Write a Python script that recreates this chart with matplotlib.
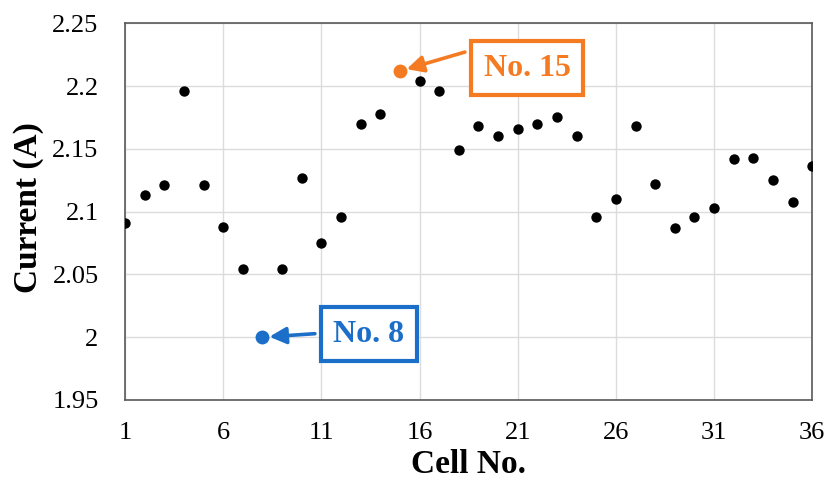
import matplotlib
matplotlib.use('Agg')
import matplotlib.pyplot as plt

plt.rcParams['font.family'] = ['Liberation Serif', 'DejaVu Serif']

# data
cell_no = list(range(1, 37))
current = [2.091, 2.113, 2.121, 2.196, 2.121, 2.088, 2.054, 2.000, 2.054, 2.127,
           2.075, 2.096, 2.170, 2.178, 2.212, 2.204, 2.196, 2.149, 2.168, 2.160,
           2.166, 2.170, 2.175, 2.160, 2.096, 2.110, 2.168, 2.122, 2.087, 2.096,
           2.103, 2.142, 2.143, 2.125, 2.108, 2.136]
highlight = {8: ('No. 8', '#1C6FC9'), 15: ('No. 15', '#F47B22')}
x_ticks = [1, 6, 11, 16, 21, 26, 31, 36]
y_ticks = [1.95, 2.0, 2.05, 2.1, 2.15, 2.2, 2.25]
y_ticklabels = ['1.95', '2', '2.05', '2.1', '2.15', '2.2', '2.25']

# label box centres and arrow tails (data coords)
box_pos = {8: (13.42, 2.0024), 15: (21.47, 2.2144)}
arrow_tail = {8: (10.67, 2.0028), 15: (18.31, 2.2271)}

fig = plt.figure(figsize=(8.31, 4.9), dpi=100)
ax = fig.add_axes([0.1504, 0.1837, 0.8271, 0.7687])

# normal cells in black
xs = [c for c in cell_no if c not in highlight]
ys = [current[c - 1] for c in xs]
ax.scatter(xs, ys, s=56, color='black', zorder=3, linewidths=0)

for c, (label, color) in highlight.items():
    y = current[c - 1]
    ax.scatter([c], [y], s=100, color=color, zorder=3, linewidths=0)
    ax.annotate('', xy=(c, y), xytext=arrow_tail[c],
                arrowprops=dict(arrowstyle='-|>,head_length=1.0,head_width=0.5',
                                color=color, lw=2.6, shrinkA=0, shrinkB=5),
                zorder=4)
    bx, by = box_pos[c]
    ax.text(bx, by, label, ha='center', va='center', fontsize=23,
            fontweight='bold', color=color, zorder=5,
            bbox=dict(boxstyle='square,pad=0.4', facecolor='white',
                      edgecolor=color, linewidth=3))

ax.set_xlim(1, 36)
ax.set_ylim(1.95, 2.25)
ax.set_xticks(x_ticks)
ax.set_yticks(y_ticks)
ax.set_yticklabels(y_ticklabels)
ax.tick_params(axis='both', length=0, labelsize=19)
ax.tick_params(axis='x', pad=16)
ax.tick_params(axis='y', pad=19)

ax.grid(True, color='#DCDCDC', linewidth=1.0)
ax.set_axisbelow(True)
for sp in ax.spines.values():
    sp.set_color('#595959')
    sp.set_linewidth(1.2)

ax.set_xlabel('Cell No.', fontsize=24, fontweight='bold')
ax.xaxis.label.set_va('center')
ax.xaxis.set_label_coords(0.5, -0.17)
ax.set_ylabel('Current (A)', fontsize=24, fontweight='bold')
ax.yaxis.label.set_va('center')
ax.yaxis.set_label_coords(-0.14, 0.51)

plt.savefig('out.png', dpi=100)
plt.close()
